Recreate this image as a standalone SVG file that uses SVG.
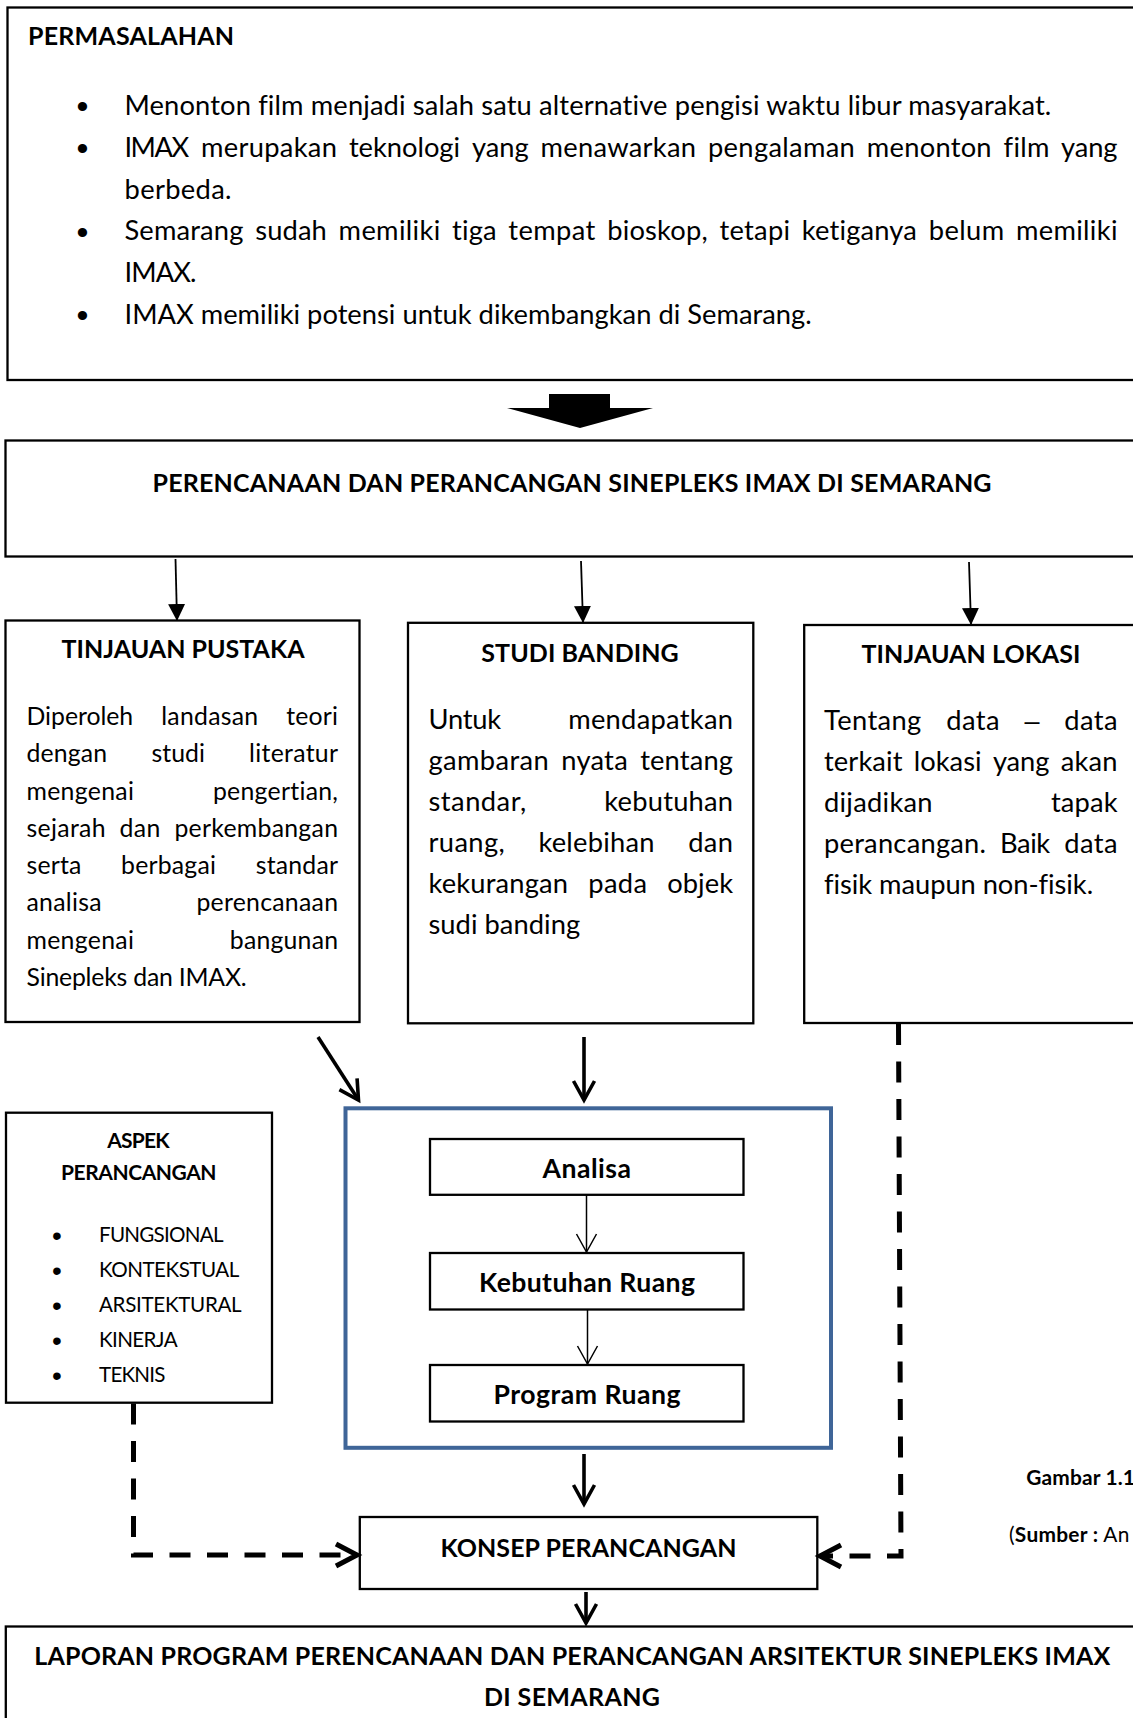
<svg xmlns="http://www.w3.org/2000/svg" width="1133" height="1718" viewBox="0 0 1133 1718">
<style>
text{font-family:Lato,"Liberation Sans",sans-serif;fill:#000;font-variant-ligatures:none;font-feature-settings:"liga" 0}
.r12{font-size:27.3px}
.r11{font-size:24.8px}
.bt{font-size:26.6px;font-weight:700}
.bc{font-size:25px;font-weight:700}
.sm{font-size:20.6px}
.smb{font-size:21px;font-weight:700}
.g{font-size:20.9px}
.dsh{font-family:"Liberation Sans",sans-serif;font-size:27px}
.bul{font-family:"Liberation Sans",sans-serif;font-size:34px;text-anchor:middle}
.bul2{font-family:"Liberation Sans",sans-serif;font-size:28px;text-anchor:middle}
.mid{text-anchor:middle}
.box{fill:#fff;stroke:#000;stroke-width:2.3}
.blue{fill:none;stroke:#3F6598;stroke-width:4}
.thin{fill:none;stroke:#000;stroke-width:1.8}
.thick{fill:none;stroke:#000;stroke-width:3.6}
.ithin{fill:none;stroke:#000;stroke-width:1.5}
.dash{fill:none;stroke:#000;stroke-width:5;stroke-dasharray:21 16.5}
</style>
<defs>
<marker id="tri" viewBox="0 0 17 17" refX="16" refY="8.5" markerWidth="17" markerHeight="17" markerUnits="userSpaceOnUse" orient="auto"><path d="M0,0 L17,8.5 L0,17 Z" fill="#000"/></marker>
<marker id="vee" viewBox="0 0 24 24" refX="21" refY="12" markerWidth="24" markerHeight="24" markerUnits="userSpaceOnUse" orient="auto" overflow="visible"><path d="M2,1.5 L21,12 L2,22.5" fill="none" stroke="#000" stroke-width="3.6"/></marker>
<marker id="veeThin" viewBox="0 0 20 22" refX="19" refY="11" markerWidth="20" markerHeight="22" markerUnits="userSpaceOnUse" orient="auto" overflow="visible"><path d="M1,1 L19,11 L1,21" fill="none" stroke="#000" stroke-width="1.5"/></marker>
<marker id="veeDash" viewBox="0 0 26 26" refX="23" refY="13" markerWidth="26" markerHeight="26" markerUnits="userSpaceOnUse" orient="auto" overflow="visible"><path d="M2,2 L23,13 L2,24" fill="none" stroke="#000" stroke-width="5"/></marker>
</defs>
<rect width="1133" height="1718" fill="#fff"/>

<g id="permasalahan">
<rect class="box" x="7.5" y="7.5" width="1140" height="372.5"/>
<text class="bc" x="28" y="44.5" textLength="206">PERMASALAHAN</text>
<text class="bul" x="82.5" y="118">•</text>
<text class="bul" x="82.5" y="160">•</text>
<text class="bul" x="82.5" y="243.5">•</text>
<text class="bul" x="82.5" y="327">•</text>
<text class="r12" x="124.5" y="115" textLength="926.8">Menonton film menjadi salah satu alternative pengisi waktu libur masyarakat.</text>
<text class="r12" y="156.8"><tspan x="124.5" textLength="64.6">IMAX</tspan> <tspan x="201.1" textLength="135.8">merupakan</tspan> <tspan x="348.9" textLength="111.2">teknologi</tspan> <tspan x="472.1" textLength="56.5">yang</tspan> <tspan x="540.6" textLength="155.4">menawarkan</tspan> <tspan x="708" textLength="146.8">pengalaman</tspan> <tspan x="866.8" textLength="124.8">menonton</tspan> <tspan x="1003.6" textLength="45.8">film</tspan> <tspan x="1061" textLength="56.5">yang</tspan></text>
<text class="r12" x="124.5" y="198.6" textLength="107">berbeda.</text>
<text class="r12" y="240.4"><tspan x="124.5" textLength="118.9">Semarang</tspan> <tspan x="255.2" textLength="71.6">sudah</tspan> <tspan x="338.6" textLength="101.6">memiliki</tspan> <tspan x="452.1" textLength="44.4">tiga</tspan> <tspan x="508.3" textLength="87.1">tempat</tspan> <tspan x="607.2" textLength="100.5">bioskop,</tspan> <tspan x="719.6" textLength="70.4">tetapi</tspan> <tspan x="801.8" textLength="115">ketiganya</tspan> <tspan x="928.7" textLength="75.5">belum</tspan> <tspan x="1015.9" textLength="101.6">memiliki</tspan></text>
<text class="r12" x="124.5" y="282.2" textLength="72">IMAX.</text>
<text class="r12" x="124.5" y="324" textLength="687.2">IMAX memiliki potensi untuk dikembangkan di Semarang.</text>
</g>

<g id="block-arrow">
<polygon points="549,394 610,394 610,408 653,408 580,428 507,408 549,408" fill="#000"/>
</g>

<g id="perencanaan">
<rect class="box" x="5.5" y="440.5" width="1140" height="116"/>
<text class="bc" x="152.5" y="492" textLength="839">PERENCANAAN DAN PERANCANGAN SINEPLEKS IMAX DI SEMARANG</text>
</g>

<g id="tinjauan-pustaka">
<rect class="box" x="5.5" y="620.5" width="354" height="401.5"/>
<text class="bc mid" x="183" y="657.5" textLength="243">TINJAUAN PUSTAKA</text>
<text class="r11" y="725"><tspan x="26.5" textLength="106.7">Diperoleh</tspan> <tspan x="161.2" textLength="97">landasan</tspan> <tspan x="286.3" textLength="51.7">teori</tspan></text>
<text class="r11" y="762.25"><tspan x="26.5" textLength="80.7">dengan</tspan> <tspan x="151.4" textLength="53.5">studi</tspan> <tspan x="249.1" textLength="88.9">literatur</tspan></text>
<text class="r11" y="799.5"><tspan x="26.5" textLength="107.4">mengenai</tspan> <tspan x="212.9" textLength="125.1">pengertian,</tspan></text>
<text class="r11" y="836.75"><tspan x="26.5" textLength="79">sejarah</tspan> <tspan x="119.6" textLength="40.8">dan</tspan> <tspan x="174.4" textLength="163.6">perkembangan</tspan></text>
<text class="r11" y="874"><tspan x="26.5" textLength="54.8">serta</tspan> <tspan x="121.05" textLength="94.9">berbagai</tspan> <tspan x="255.7" textLength="82.3">standar</tspan></text>
<text class="r11" y="911.25"><tspan x="26.5" textLength="75.1">analisa</tspan> <tspan x="196.4" textLength="141.6">perencanaan</tspan></text>
<text class="r11" y="948.5"><tspan x="26.5" textLength="107.4">mengenai</tspan> <tspan x="229.8" textLength="108.2">bangunan</tspan></text>
<text class="r11" x="26.5" y="985.75" textLength="220.2">Sinepleks dan IMAX.</text>
</g>

<g id="studi-banding">
<rect class="box" x="408" y="622.8" width="345.3" height="400.5"/>
<text class="bc mid" x="580" y="661.7" textLength="197.5">STUDI BANDING</text>
<text class="r12" y="728.5"><tspan x="428.5" textLength="72.7">Untuk</tspan> <tspan x="568.2" textLength="164.8">mendapatkan</tspan></text>
<text class="r12" y="769.6"><tspan x="428.5" textLength="120.3">gambaran</tspan> <tspan x="561.25" textLength="66.5">nyata</tspan> <tspan x="640.2" textLength="92.8">tentang</tspan></text>
<text class="r12" y="810.7"><tspan x="428.5" textLength="97.7">standar,</tspan> <tspan x="604.3" textLength="128.7">kebutuhan</tspan></text>
<text class="r12" y="851.8"><tspan x="428.5" textLength="76.2">ruang,</tspan> <tspan x="538.4" textLength="116.1">kelebihan</tspan> <tspan x="688.2" textLength="44.8">dan</tspan></text>
<text class="r12" y="892.9"><tspan x="428.5" textLength="139.5">kekurangan</tspan> <tspan x="588.25" textLength="58.8">pada</tspan> <tspan x="667.3" textLength="65.7">objek</tspan></text>
<text class="r12" x="428.5" y="934" textLength="151.6">sudi banding</text>
</g>

<g id="tinjauan-lokasi">
<rect class="box" x="804.2" y="625" width="340" height="398"/>
<text class="bc mid" x="971" y="662.7" textLength="219">TINJAUAN LOKASI</text>
<text class="r12" y="730"><tspan x="824" textLength="97.3">Tentang</tspan> <tspan x="946.3" textLength="53.3">data</tspan> <tspan class="dsh" x="1024.6">–</tspan> <tspan x="1064.2" textLength="53.3">data</tspan></text>
<text class="r12" y="771.1"><tspan x="824" textLength="78.5">terkait</tspan> <tspan x="913.8" textLength="67.7">lokasi</tspan> <tspan x="992.9" textLength="56.5">yang</tspan> <tspan x="1060.7" textLength="56.8">akan</tspan></text>
<text class="r12" y="812.2"><tspan x="824" textLength="108.6">dijadikan</tspan> <tspan x="1050.9" textLength="66.6">tapak</tspan></text>
<text class="r12" y="853.3"><tspan x="824" textLength="162">perancangan.</tspan> <tspan x="1000.1" textLength="50">Baik</tspan> <tspan x="1064.2" textLength="53.3">data</tspan></text>
<text class="r12" x="824" y="894.4" textLength="269.1">fisik maupun non-fisik.</text>
</g>

<g id="aspek-perancangan">
<rect class="box" x="6" y="1112.7" width="266" height="290"/>
<text class="smb mid" x="138.5" y="1147.5" textLength="62.5">ASPEK</text>
<text class="smb mid" x="138.8" y="1180" textLength="155.5">PERANCANGAN</text>
<text class="bul2" x="57" y="1245">•</text>
<text class="bul2" x="57" y="1280">•</text>
<text class="bul2" x="57" y="1315">•</text>
<text class="bul2" x="57" y="1350">•</text>
<text class="bul2" x="57" y="1385">•</text>
<text class="sm" x="99" y="1242" textLength="124.5">FUNGSIONAL</text>
<text class="sm" x="99" y="1277" textLength="140.3">KONTEKSTUAL</text>
<text class="sm" x="99" y="1312" textLength="142.7">ARSITEKTURAL</text>
<text class="sm" x="99" y="1347" textLength="78.7">KINERJA</text>
<text class="sm" x="99" y="1382" textLength="66.5">TEKNIS</text>
</g>

<g id="proses">
<rect class="blue" x="345.5" y="1108.3" width="485.5" height="339.5"/>
</g>
<g id="analisa">
<rect class="box" x="430" y="1139" width="313.5" height="55.8"/>
<text class="bt mid" x="586.7" y="1178" textLength="88.5">Analisa</text>
</g>
<g id="kebutuhan-ruang">
<rect class="box" x="430" y="1253" width="313.5" height="56.5"/>
<text class="bt mid" x="587" y="1291.5" textLength="216">Kebutuhan Ruang</text>
</g>
<g id="program-ruang">
<rect class="box" x="430" y="1365" width="313.5" height="56.5"/>
<text class="bt mid" x="587" y="1404" textLength="187">Program Ruang</text>
</g>

<g id="konsep-perancangan">
<rect class="box" x="359.8" y="1517" width="457.5" height="72"/>
<text class="bc mid" x="588.5" y="1556.5" textLength="296">KONSEP PERANCANGAN</text>
</g>

<g id="laporan">
<rect class="box" x="5.8" y="1626.5" width="1140" height="120"/>
<text class="bc mid" x="572.3" y="1665" textLength="1076">LAPORAN PROGRAM PERENCANAAN DAN PERANCANGAN ARSITEKTUR SINEPLEKS IMAX</text>
<text class="bc mid" x="572" y="1706" textLength="176">DI SEMARANG</text>
</g>

<g id="keterangan">
<text class="g" x="1026.3" y="1485" font-weight="700" textLength="108.6">Gambar 1.1</text>
<text class="g" x="1009" y="1541.5" textLength="120.4">(<tspan font-weight="700">Sumber :</tspan> An</text>
</g>

<g id="connectors">
<path class="thin" d="M175.5,559 L177,620" marker-end="url(#tri)"/>
<path class="thin" d="M581,561 L583,622" marker-end="url(#tri)"/>
<path class="thin" d="M969,562 L971,624" marker-end="url(#tri)"/>
<path class="thick" d="M318,1037 L358.5,1100" marker-end="url(#vee)"/>
<path class="thick" d="M584,1037 L584,1100" marker-end="url(#vee)"/>
<path class="ithin" d="M586.5,1195 L586.5,1252" marker-end="url(#veeThin)"/>
<path class="ithin" d="M587.5,1309.5 L587.5,1364" marker-end="url(#veeThin)"/>
<path class="thick" d="M584,1454 L584,1504" marker-end="url(#vee)"/>
<path class="thick" d="M586,1592 L586,1623" marker-end="url(#vee)"/>
<path class="dash" d="M133.5,1403.5 L133.5,1555 L357,1555" marker-end="url(#veeDash)"/>
<path class="dash" d="M898.5,1024 L901,1556 L820,1556" marker-end="url(#veeDash)"/>
</g>
</svg>
